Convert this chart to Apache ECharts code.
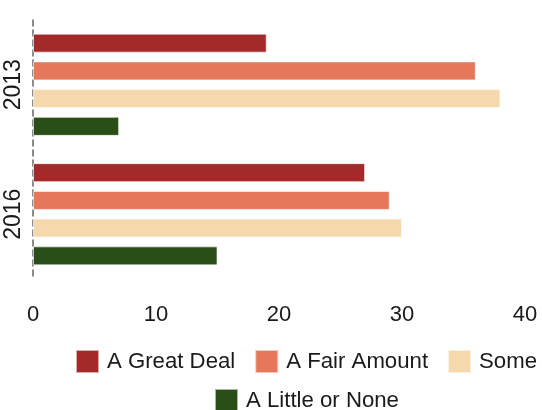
<!DOCTYPE html>
<html>
<head>
<meta charset="utf-8">
<script src="https://cdn.jsdelivr.net/npm/echarts@6/dist/echarts.min.js"></script>
<style>
  html, body { margin: 0; padding: 0; background: #fff; }
  #chart { width: 542px; height: 410px; }
</style>
</head>
<body>
<div id="chart"></div>
<script>
// data
const years = ['2013', '2016']
const seriesNames = ['A Great Deal', 'A Fair Amount', 'Some', 'A Little or None']
const greatDeal = [19, 27]
const fairAmount = [36, 29]
const some = [38, 30]
const littleOrNone = [7, 15]
const xTicks = [0, 10, 20, 30, 40]

const colors = ['#a3292b', '#e7775a', '#f5d9ad', '#2a4e17']
const values = [greatDeal, fairAmount, some, littleOrNone]

const chart = echarts.init(document.getElementById('chart'))

const font = 'Liberation Sans, Arial, sans-serif'

const series = seriesNames.map((name, i) => ({
  name: name,
  type: 'bar',
  data: values[i],
  barWidth: 19,
  barGap: '46%',
  itemStyle: {
    color: colors[i],
    borderColor: 'rgba(255,255,255,0.6)',
    borderWidth: 1
  }
}))

const legendText = { fontSize: 22.2, color: '#1a1a1a', fontFamily: font, padding: [0, 0, 0, 3] }

chart.setOption({
  animation: false,
  color: colors,
  grid: {
    left: 33,
    right: 17,
    top: 20,
    bottom: 131
  },
  xAxis: {
    type: 'value',
    min: xTicks[0],
    max: xTicks[xTicks.length - 1],
    interval: 10,
    axisLine: { show: false },
    axisTick: { show: false },
    splitLine: { show: false },
    axisLabel: {
      color: '#1a1a1a',
      fontSize: 22,
      fontFamily: font,
      margin: 25
    }
  },
  yAxis: {
    type: 'category',
    data: years,
    inverse: true,
    axisTick: { show: false },
    axisLine: {
      show: true,
      lineStyle: { color: '#666', width: 1.5, type: [6, 4] }
    },
    axisLabel: {
      rotate: 90,
      color: '#1a1a1a',
      fontSize: 23,
      fontFamily: font,
      margin: 8
    }
  },
  legend: [
    {
      data: seriesNames.slice(0, 3),
      left: 70,
      top: 344,
      width: 520,
      itemWidth: 23,
      itemHeight: 23,
      itemGap: 19,
      icon: 'rect',
      textStyle: legendText
    },
    {
      data: seriesNames.slice(3),
      left: 209,
      top: 383,
      width: 300,
      itemWidth: 23,
      itemHeight: 23,
      icon: 'rect',
      textStyle: legendText
    }
  ],
  series: series
})
</script>
</body>
</html>
